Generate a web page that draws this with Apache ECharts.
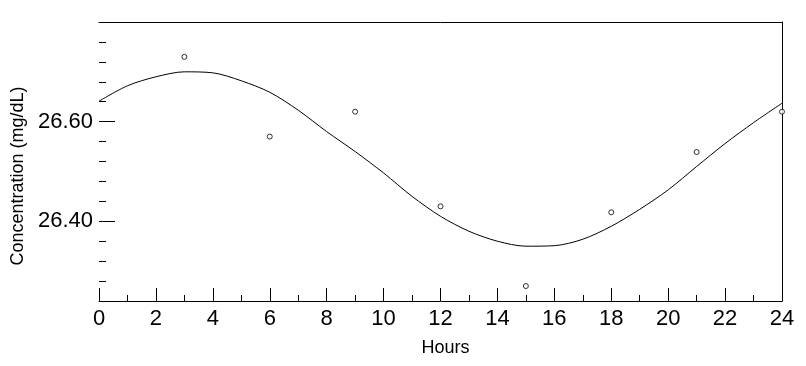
<!DOCTYPE html>
<html>
<head>
<meta charset="utf-8">
<script src="https://cdn.jsdelivr.net/npm/echarts@6/dist/echarts.min.js"></script>
<style>html,body{margin:0;padding:0;background:#fff;}#c{width:806px;height:366px;}</style>
</head>
<body>
<div id="c"></div>
<script>
// Observed data points (hours, concentration mg/dL)
var pointHours = [3, 6, 9, 12, 15, 18, 21, 24];
var pointValues = [26.73, 26.57, 26.62, 26.43, 26.27, 26.418, 26.539, 26.62];

// Fitted curve
var curveHours = [0, 1, 2, 3, 4, 5, 6, 7, 8, 9, 10, 11, 12, 13, 14, 15, 16, 17, 18, 19, 20, 21, 22, 23, 24];
var curveValues = [26.641, 26.672, 26.690, 26.700, 26.698, 26.682, 26.659, 26.623, 26.580, 26.540, 26.497, 26.450, 26.410, 26.380, 26.360, 26.350, 26.351, 26.364, 26.390, 26.424, 26.463, 26.510, 26.556, 26.598, 26.637];

var yMajorTicks = [26.40, 26.60];
var yMinorTicks = [26.28, 26.32, 26.36, 26.44, 26.48, 26.52, 26.56, 26.64, 26.68, 26.72, 26.76];

var xName = 'Hours';
var yName = 'Concentration (mg/dL)';

var font = 'Arial, "Liberation Sans", sans-serif';
var chart = echarts.init(document.getElementById('c'));
var yMin = 26.24, yMax = 26.80;

chart.setOption({
  animation: false,
  backgroundColor: '#fff',
  grid: {left: 99, right: 24, top: 22, bottom: 65},
  xAxis: [{
    type: 'value', min: 0, max: 24, interval: 2, position: 'bottom',
    name: xName, nameLocation: 'middle', nameGap: 38,
    nameTextStyle: {fontFamily: font, fontSize: 18, color: '#000', padding: [0, 0, 0, 10]},
    axisLine: {show: true, lineStyle: {color: '#000', width: 1}},
    axisTick: {show: true, inside: true, length: 13, lineStyle: {color: '#000'}},
    minorTick: {show: true, splitNumber: 2, length: 6, lineStyle: {color: '#000'}},
    axisLabel: {fontFamily: font, fontSize: 22, color: '#000', margin: 7},
    splitLine: {show: false}
  }, {
    type: 'value', min: 0, max: 24, position: 'top',
    axisLine: {show: true, lineStyle: {color: '#000', width: 1}},
    axisTick: {show: false}, axisLabel: {show: false}, splitLine: {show: false}
  }],
  yAxis: [{
    type: 'value', min: yMin, max: yMax, position: 'left',
    name: yName, nameLocation: 'middle', nameGap: 70, nameRotate: 90,
    nameTextStyle: {fontFamily: font, fontSize: 18, color: '#000', padding: [0, 29, 0, 0]},
    axisLine: {show: false},
    axisTick: {show: true, inside: true, length: 16, customValues: yMajorTicks, lineStyle: {color: '#000'}},
    axisLabel: {show: true, customValues: yMajorTicks, fontFamily: font, fontSize: 22, color: '#000', margin: 6,
      formatter: function (v) { return v.toFixed(2); }},
    splitLine: {show: false}
  }, {
    type: 'value', min: yMin, max: yMax, position: 'left',
    axisLine: {show: false},
    axisTick: {show: true, inside: true, length: 7, customValues: yMinorTicks, lineStyle: {color: '#000'}},
    axisLabel: {show: false}, splitLine: {show: false}
  }, {
    type: 'value', min: yMin, max: yMax, position: 'right',
    axisLine: {show: true, lineStyle: {color: '#000', width: 1}},
    axisTick: {show: false}, axisLabel: {show: false}, splitLine: {show: false}
  }],
  series: [{
    type: 'line', xAxisIndex: 0, yAxisIndex: 0,
    data: curveHours.map(function (h, i) { return [h, curveValues[i]]; }),
    smooth: 0.3, showSymbol: false, symbol: 'none',
    lineStyle: {color: '#000', width: 1}, z: 2
  }, {
    type: 'scatter', xAxisIndex: 0, yAxisIndex: 0,
    data: pointHours.map(function (h, i) { return [h, pointValues[i]]; }),
    symbol: 'circle', symbolSize: 5,
    itemStyle: {color: '#fff', borderColor: '#000', borderWidth: 1}, z: 3
  }]
});
</script>
</body>
</html>
